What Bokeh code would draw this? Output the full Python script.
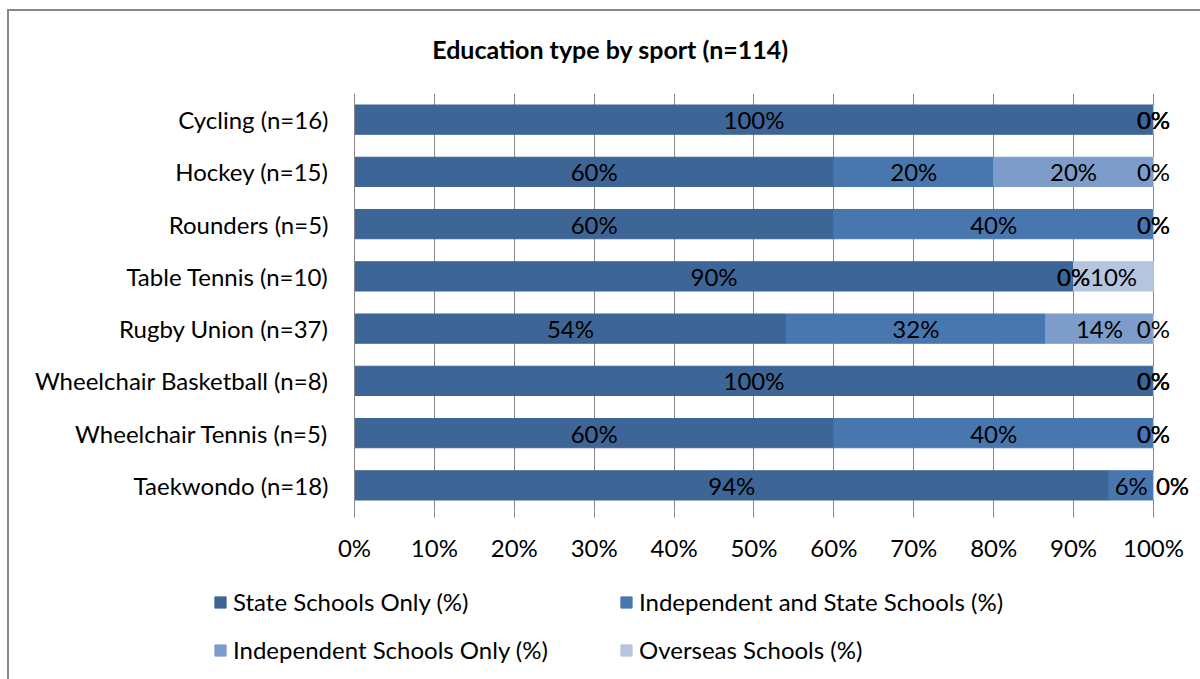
from bokeh.plotting import figure
from bokeh.layouts import column
from bokeh.models import ColumnDataSource, FactorRange, Range1d, Legend, LegendItem, FixedTicker, Label
from bokeh.core.properties import value
from bokeh.embed import file_html
from bokeh.resources import INLINE

title_text = "Education type by sport (n=114)"
sports = ["Cycling (n=16)", "Hockey (n=15)", "Rounders (n=5)", "Table Tennis (n=10)",
          "Rugby Union (n=37)", "Wheelchair Basketball (n=8)", "Wheelchair Tennis (n=5)",
          "Taekwondo (n=18)"]
series = ["State Schools Only (%)", "Independent and State Schools (%)",
          "Independent Schools Only (%)", "Overseas Schools (%)"]
state_only = [100, 60, 60, 90, 54.05, 100, 60, 94.44]
indep_and_state = [0, 20, 40, 0, 32.43, 0, 40, 5.56]
indep_only = [0, 20, 0, 0, 13.51, 0, 0, 0]
overseas = [0, 0, 0, 10, 0, 0, 0, 0]
colors = ["#3D6596", "#4877B0", "#7E9CCA", "#B5C4DF"]
x_ticks = [0, 10, 20, 30, 40, 50, 60, 70, 80, 90, 100]

FONT = "Lato"
FS = "24px"

# title strip
p0 = figure(width=1191, height=60, x_range=Range1d(0, 1), y_range=Range1d(0, 1),
            output_backend="svg", toolbar_location=None, x_axis_location=None,
            y_axis_location=None, min_border=0)
p0.frame_align = False
p0.outline_line_color = None
p0.grid.grid_line_color = None
p0.add_layout(Label(x=601, y=23, x_units="screen", y_units="screen", text=title_text,
                    text_align="center", text_baseline="middle", text_font=FONT,
                    text_font_size="25px", text_font_style="bold", text_color="black"))

p = figure(width=1191, height=502, y_range=FactorRange(*reversed(sports), range_padding=0),
           x_range=Range1d(0, 104.76), output_backend="svg", toolbar_location=None,
           min_border_left=345, min_border_right=9, min_border_top=22, min_border_bottom=62)
p.outline_line_color = None
p.background_fill_color = "white"
p.border_fill_color = "white"
p.frame_align = False

data = [state_only, indep_and_state, indep_only, overseas]
left = [0.0] * len(sports)
last_width = [0.0] * len(sports)
sources = []
for vals, col in zip(data, colors):
    right = [l + v for l, v in zip(left, vals)]
    # zero-width labels that would sit on top of a narrow preceding label are nudged right
    offs = [19 if (v == 0 and 0 < lw < 8) else 0 for v, lw in zip(vals, last_width)]
    src = ColumnDataSource(dict(y=sports, left=left, right=right,
                                mid=[(l + r) / 2 for l, r in zip(left, right)],
                                lab=["%d%%" % round(v) for v in vals], off=offs))
    p.hbar(y="y", left="left", right="right", height=0.56, source=src,
           fill_color=col, line_color=col)
    sources.append(src)
    last_width = [v if v > 0 else lw for v, lw in zip(vals, last_width)]
    left = right
for src in sources:
    p.text(x="mid", y="y", text="lab", source=src, x_offset="off", text_align="center",
           text_baseline="middle", text_font=value(FONT), text_font_size=FS, text_color="black")

p.xgrid.grid_line_color = "#888888"
p.xgrid.grid_line_width = 1
p.xgrid.ticker = FixedTicker(ticks=x_ticks)
p.ygrid.grid_line_color = None

p.xaxis.ticker = FixedTicker(ticks=x_ticks)
p.xaxis.major_label_overrides = {t_: "%d%%" % t_ for t_ in x_ticks}
p.xaxis.axis_line_color = None
p.xaxis.major_tick_line_color = "#888888"
p.xaxis.major_tick_out = 6
p.xaxis.major_tick_in = 0
p.xaxis.minor_tick_line_color = None
p.xaxis.major_label_standoff = 15
p.xaxis.major_label_text_font = FONT
p.xaxis.major_label_text_font_size = FS
p.xaxis.major_label_text_color = "black"

p.yaxis.axis_line_color = "#888888"
p.yaxis.major_tick_line_color = None
p.yaxis.minor_tick_line_color = None
p.yaxis.major_label_standoff = 20
p.yaxis.major_label_text_font = FONT
p.yaxis.major_label_text_font_size = FS
p.yaxis.major_label_text_color = "black"

# legend strip (legend swatches use off-canvas proxy glyphs)
p2 = figure(width=1191, height=106, x_range=Range1d(0, 1), y_range=Range1d(0, 1),
            output_backend="svg", toolbar_location=None, x_axis_location=None,
            y_axis_location=None, min_border=0)
p2.frame_align = False
p2.outline_line_color = None
p2.grid.grid_line_color = None
items = []
for name, col in zip(series, colors):
    r = p2.quad(left=[-3], right=[-2], bottom=[-3], top=[-2], fill_color=col, line_color=col)
    items.append(LegendItem(label=name, renderers=[r]))
legend = Legend(items=items, orientation="horizontal", ncols=2, location=(204, 15),
                glyph_width=14, glyph_height=14, label_standoff=6,
                label_text_font=FONT, label_text_font_size=FS, label_text_color="black",
                label_height=24, label_width=367, spacing=19, padding=0, margin=0,
                border_line_color=None, background_fill_alpha=0)
p2.add_layout(legend, "center")

layout = column(p0, p, p2, spacing=0)
layout.styles = {"margin-left": "7px", "margin-top": "9px",
                 "border-left": "2px solid #888888", "border-top": "2px solid #888888"}

open("out.html", "w").write(file_html(layout, INLINE))
